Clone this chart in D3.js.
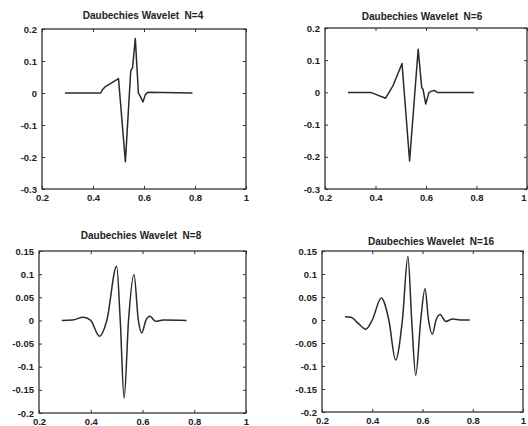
<!DOCTYPE html>
<html>
<head>
<meta charset="utf-8">
<script src="https://cdn.jsdelivr.net/npm/d3@7"></script>
<style>
  body { margin: 0; background: #fff; }
  svg { display: block; }
  text { font-family: "Liberation Sans", Arial, sans-serif; fill: #222; }
</style>
</head>
<body>
<script>
// Values
var xTicks = [0.2, 0.4, 0.6, 0.8, 1];
var yTicksTop = [0.2, 0.1, 0, -0.1, -0.2, -0.3];
var yTicksBottom = [0.15, 0.1, 0.05, 0, -0.05, -0.1, -0.15, -0.2];

var titles = ["Daubechies Wavelet  N=4", "Daubechies Wavelet  N=6",
              "Daubechies Wavelet  N=8", "Daubechies Wavelet  N=16"];

var waveN4 = [[0.29, 0], [0.43, 0], [0.437, 0.01], [0.447, 0.019], [0.47, 0.03], [0.50, 0.045],
              [0.527, -0.215], [0.548, 0.07], [0.555, 0.078], [0.566, 0.17], [0.578, 0.0],
              [0.585, -0.01], [0.596, -0.028], [0.605, -0.005], [0.615, 0.002], [0.79, 0]];

var waveN6 = [[0.291, 0], [0.381, 0], [0.44, -0.018], [0.47, 0.022], [0.505, 0.09],
              [0.535, -0.213], [0.569, 0.134], [0.583, 0.015], [0.588, 0.01], [0.599, -0.036],
              [0.612, 0.0], [0.622, 0.004], [0.632, 0.006], [0.645, 0.0], [0.79, 0]];

var waveN8 = [[0.288, 0], [0.33, 0.001], [0.371, 0.007], [0.40, 0.0], [0.433, -0.034], [0.462, 0],
              [0.50, 0.117], [0.514, 0.0], [0.529, -0.168], [0.546, 0], [0.567, 0.099], [0.584, 0.0],
              [0.597, -0.027], [0.613, 0], [0.629, 0.009], [0.65, -0.002], [0.68, 0.001], [0.77, 0]];

var waveN16 = [[0.2915, 0.007], [0.315, 0.006], [0.345, -0.008], [0.374, -0.02], [0.40, 0.0],
               [0.436, 0.048], [0.466, 0], [0.493, -0.087], [0.52, 0], [0.542, 0.138], [0.557, 0],
               [0.573, -0.12], [0.593, 0], [0.61, 0.068], [0.624, 0], [0.639, -0.031], [0.654, 0],
               [0.67, 0.012], [0.692, -0.003], [0.72, 0.002], [0.75, 0], [0.788, 0]];

// Panel boxes as they sit on the page (left, top, right, bottom), plus title anchor
var panels = [
    { box: [42, 29, 246, 189], title: titles[0], tx: 143, ty: 19, yDom: [-0.3, 0.2], yTicks: yTicksTop, data: waveN4, curve: d3.curveLinear },
    { box: [325, 28, 527, 189], title: titles[1], tx: 422, ty: 20, yDom: [-0.3, 0.2], yTicks: yTicksTop, data: waveN6, curve: d3.curveLinear },
    { box: [39, 251, 246, 413], title: titles[2], tx: 141, ty: 239, yDom: [-0.2, 0.15], yTicks: yTicksBottom, data: waveN8, curve: d3.curveMonotoneX },
    { box: [322, 251, 523, 412], title: titles[3], tx: 431, ty: 245, yDom: [-0.2, 0.15], yTicks: yTicksBottom, data: waveN16, curve: d3.curveMonotoneX }
];

var svg = d3.select("body").append("svg")
    .attr("width", 528)
    .attr("height", 426);

var tickLen = 3;

panels.forEach(function (p) {
    var x = d3.scaleLinear().domain([0.2, 1]).range([p.box[0], p.box[2]]);
    var y = d3.scaleLinear().domain(p.yDom).range([p.box[3], p.box[1]]);
    var g = svg.append("g");

    // Frame
    g.append("rect")
        .attr("x", p.box[0]).attr("y", p.box[1])
        .attr("width", p.box[2] - p.box[0]).attr("height", p.box[3] - p.box[1])
        .attr("fill", "none").attr("stroke", "#222").attr("stroke-width", 1.2);

    // Inside ticks, all four sides
    var fmt = function (d) { return d3.format("")(+d.toFixed(2)).replace("−", "-"); };
    var bottom = d3.axisBottom(x).tickValues(xTicks).tickSizeInner(-tickLen).tickSizeOuter(0).tickPadding(5).tickFormat(fmt);
    var top = d3.axisTop(x).tickValues(xTicks).tickSizeInner(-tickLen).tickSizeOuter(0).tickFormat("");
    var left = d3.axisLeft(y).tickValues(p.yTicks).tickSizeInner(-tickLen).tickSizeOuter(0).tickPadding(5).tickFormat(fmt);
    var right = d3.axisRight(y).tickValues(p.yTicks).tickSizeInner(-tickLen).tickSizeOuter(0).tickFormat("");

    [[bottom, "translate(0," + p.box[3] + ")"], [top, "translate(0," + p.box[1] + ")"],
     [left, "translate(" + p.box[0] + ",0)"], [right, "translate(" + p.box[2] + ",0)"]].forEach(function (a) {
        var ax = g.append("g").attr("transform", a[1]).call(a[0]);
        ax.select(".domain").remove();
        ax.selectAll("line").attr("stroke", "#333").attr("stroke-width", 1);
        ax.selectAll("text")
            .style("font-family", "'Liberation Sans', Arial, sans-serif")
            .style("font-size", "9.5px")
            .style("font-weight", "bold")
            .attr("fill", "#222");
    });

    // keep the last x label on the page when the frame touches the right edge
    if (p.box[2] > 525) {
        g.selectAll(".tick text").filter(function () { return this.textContent === "1"; })
            .attr("text-anchor", "end").attr("dx", -1);
    }

    // Wavelet curve
    var line = d3.line()
        .x(function (d) { return x(d[0]); })
        .y(function (d) { return y(d[1]); })
        .curve(p.curve);

    g.append("path")
        .datum(p.data)
        .attr("d", line)
        .attr("fill", "none")
        .attr("stroke", "#2a2a2a")
        .attr("stroke-width", 1.5)
        .attr("stroke-linejoin", "round");

    // Title
    g.append("text")
        .attr("x", p.tx).attr("y", p.ty)
        .attr("text-anchor", "middle")
        .style("white-space", "pre")
        .style("font-size", "10px")
        .style("font-weight", "bold")
        .text(p.title);
});
</script>
</body>
</html>
